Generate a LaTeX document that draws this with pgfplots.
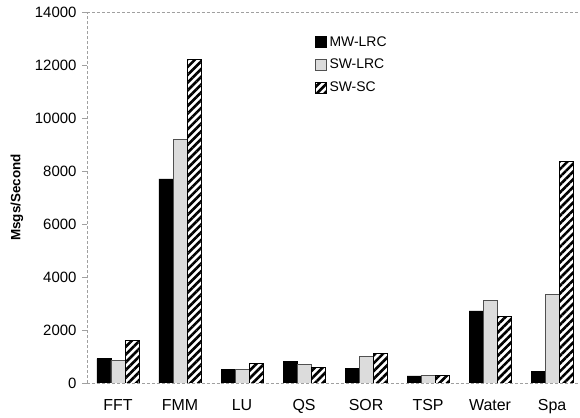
\documentclass[border=0pt]{standalone}
\usepackage{fontspec}
\setmainfont{Liberation Sans}
\usepackage{pgfplots}
\pgfplotsset{compat=1.18}
\usetikzlibrary{patterns.meta}
\definecolor{lgray}{HTML}{DCDCDC}
\definecolor{bgray}{HTML}{505050}
\definecolor{axgray}{HTML}{A0A0A0}
\begin{document}
\begin{tikzpicture}
\begin{axis}[
  name=ax,
  scale only axis,
  width=493bp, height=371bp,
  xmin=-0.5, xmax=7.45,
  ymin=0, ymax=14000,
  ytick={0,2000,4000,6000,8000,10000,12000,14000},
  xtick={0,1,2,3,4,5,6,7},
  xticklabels={FFT,FMM,LU,QS,SOR,TSP,Water,Spa},
  axis x line*=box,
  axis y line*=left,
  axis line style={axgray, densely dashed, line width=0.8bp},
  x axis line style={-}, y axis line style={-},
  xtick style={draw=none},
  ytick style={axgray, solid, line width=0.8bp},
  tick align=outside,
  major tick length=5bp,
  scaled y ticks=false,
  /pgf/number format/assume math mode=true,
  yticklabel={\pgfmathprintnumber[fixed,1000 sep={}]{\tick}},
  yticklabel style={font=\fontsize{15}{17}\selectfont, xshift=-2bp},
  xticklabel style={font=\fontsize{16}{18}\selectfont, yshift=-8bp},
  ylabel={Msgs/Second},
  ylabel style={font=\fontsize{13.5}{15}\selectfont\bfseries, at={(axis description cs:-0.142,0.5)}, anchor=center},
  ybar, bar width=0.226,
  legend style={at={(axis description cs:0.4625,0.94)}, anchor=north west, draw=none, fill=none,
    font=\fontsize{14}{16}\selectfont, row sep=7.5bp, inner sep=0pt,
    nodes={inner xsep=2.5bp}},
  legend cell align=left,
  legend image code/.code={\draw[#1] (0bp,-5.5bp) rectangle (11bp,5.5bp);},
]
\addplot[draw=black, fill=black, bar shift=-0.226] coordinates {
 (0,920) (1,7700) (2,520) (3,820) (4,565) (5,265) (6,2720) (7,450)};
\addplot[draw=bgray, fill=lgray, line width=0.8bp, bar shift=0] coordinates {
 (0,840) (1,9180) (2,520) (3,695) (4,1000) (5,280) (6,3100) (7,3340)};
\addplot[draw=black, line width=0.6bp, pattern={Lines[angle=45,distance=5.5bp,line width=2.6bp]}, pattern color=black, bar shift=0.226] coordinates {
 (0,1620) (1,12200) (2,730) (3,590) (4,1110) (5,290) (6,2520) (7,8350)};
\legend{MW-LRC,SW-LRC,SW-SC}
\end{axis}
\pgfresetboundingbox
\path ([shift={(-87bp,-35bp)}]ax.south west) rectangle ([shift={(0bp,12bp)}]ax.north east);
\end{tikzpicture}
\end{document}
